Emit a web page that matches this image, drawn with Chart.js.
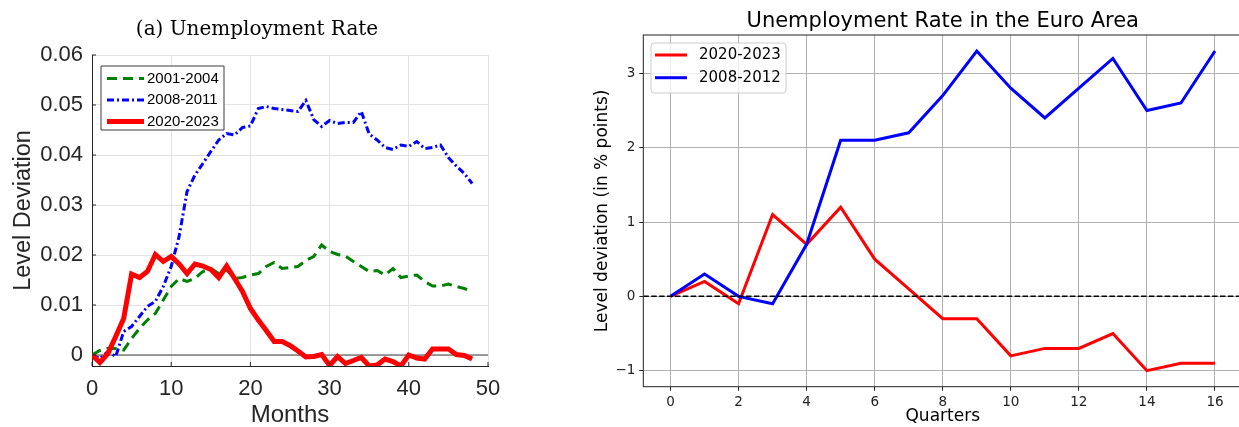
<!DOCTYPE html>
<html>
<head>
<meta charset="utf-8">
<title>Unemployment Rate</title>
<script src="https://cdn.jsdelivr.net/npm/chart.js@4.4.1/dist/chart.umd.min.js"></script>
<style>
  html, body { margin: 0; padding: 0; background: #fff; overflow: hidden; }
  #wrap { position: relative; width: 1239px; height: 427px; overflow: hidden; }
  #left { position: absolute; left: 0; top: 0; }
  #right { position: absolute; left: 580px; top: 0; }
</style>
</head>
<body>
<div id="wrap">
  <canvas id="left" width="520" height="427"></canvas>
  <canvas id="right" width="665" height="427"></canvas>
</div>
<script>
// (a) monthly level deviation of the unemployment rate
const months = [0,1,2,3,4,5,6,7,8,9,10,11,12,13,14,15,16,17,18,19,20,21,22,23,24,
  25,26,27,28,29,30,31,32,33,34,35,36,37,38,39,40,41,42,43,44,45,46,47,48];
const monthTicks = [0, 10, 20, 30, 40, 50];
const devTicks = [0, 0.01, 0.02, 0.03, 0.04, 0.05, 0.06];

const u2001 = [0, 0.0009, 0.0013, 0.0013, 0.001, 0.0033, 0.0053, 0.007, 0.0083, 0.011,
  0.0137, 0.0153, 0.0147, 0.0153, 0.0167, 0.0173, 0.0163, 0.017, 0.0153, 0.0155,
  0.016, 0.0163, 0.0177, 0.0185, 0.0173, 0.0175, 0.0177, 0.0189, 0.0197, 0.022,
  0.0207, 0.0201, 0.0198, 0.0187, 0.0177, 0.0167, 0.0169, 0.016, 0.0173, 0.0155,
  0.0158, 0.016, 0.0147, 0.0138, 0.0138, 0.0142, 0.0137, 0.0133, 0.0127];
const u2008 = [0, -0.0007, 0.0007, -0.0003, 0.0047, 0.0057, 0.0077, 0.0097, 0.0107, 0.0137,
  0.0177, 0.0237, 0.0327, 0.036, 0.0383, 0.0407, 0.043, 0.0443, 0.044, 0.0455,
  0.0458, 0.0493, 0.0497, 0.0493, 0.0491, 0.0489, 0.0487, 0.0509, 0.0471, 0.0457,
  0.0469, 0.0463, 0.0465, 0.0465, 0.0487, 0.0442, 0.043, 0.0415, 0.0411, 0.042,
  0.0417, 0.0427, 0.0413, 0.0415, 0.042, 0.0395, 0.0378, 0.0363, 0.0343];
const u2020 = [0, -0.0015, 0.0003, 0.0037, 0.0073, 0.0162, 0.0155, 0.0167, 0.0201, 0.0187,
  0.0197, 0.0182, 0.0163, 0.0182, 0.0178, 0.0171, 0.0155, 0.0178, 0.0153, 0.0127,
  0.0093, 0.007, 0.0049, 0.0027, 0.0027, 0.0019, 0.0008, -0.0004, -0.0003, 0.0001,
  -0.0021, -0.0003, -0.0017, -0.0011, -0.0005, -0.0022, -0.002, -0.0008, -0.0013, -0.0022,
  0, -0.0006, -0.0008, 0.0012, 0.0012, 0.0012, 0.0001, -0.0001, -0.0008];

// euro area, quarterly, in % points
const quarters = [0,1,2,3,4,5,6,7,8,9,10,11,12,13,14,15,16];
const quarterTicks = [0, 2, 4, 6, 8, 10, 12, 14, 16];
const ppTicks = [-1, 0, 1, 2, 3];
const ea2020 = [0, 0.2, -0.1, 1.1, 0.7, 1.2, 0.5, 0.1, -0.3, -0.3, -0.8, -0.7, -0.7, -0.5, -1.0, -0.9, -0.9];
const ea2008 = [0, 0.3, 0, -0.1, 0.7, 2.1, 2.1, 2.2, 2.7, 3.3, 2.8, 2.4, 2.8, 3.2, 2.5, 2.6, 3.3];

const pts = (xs, ys) => xs.map((x, i) => ({ x, y: ys[i] }));

function drawZero(chart, o) {
  const { ctx, chartArea: a, scales: { y } } = chart;
  const py = y.getPixelForValue(0);
  ctx.save();
  ctx.strokeStyle = o.color;
  ctx.lineWidth = o.width;
  ctx.setLineDash(o.dash || []);
  ctx.beginPath();
  ctx.moveTo(a.left, py);
  ctx.lineTo(a.right, py);
  ctx.stroke();
  ctx.restore();
}

const zeroLine = {
  id: 'zeroLine',
  beforeDatasetsDraw(chart, args, o) { if (!o.onTop) drawZero(chart, o); },
  afterDatasetsDraw(chart, args, o) { if (o.onTop) drawZero(chart, o); }
};

const axisFrame = {
  id: 'axisFrame',
  afterDatasetsDraw(chart, args, o) {
    const { ctx, chartArea: a, scales: { x, y } } = chart;
    ctx.save();
    ctx.strokeStyle = o.color;
    ctx.lineWidth = 1;
    if (o.box) ctx.strokeRect(a.left, a.top, a.width, a.height);
    if (o.innerTicks) {
      ctx.beginPath();
      x.ticks.forEach(t => {
        const px = x.getPixelForValue(t.value);
        ctx.moveTo(px, a.bottom);
        ctx.lineTo(px, a.bottom - o.innerTicks);
      });
      y.ticks.forEach(t => {
        const py = y.getPixelForValue(t.value);
        ctx.moveTo(a.left, py);
        ctx.lineTo(a.left + o.innerTicks, py);
      });
      ctx.stroke();
    }
    ctx.restore();
  }
};

// panel caption, centred on a given canvas x (MATLAB centres it on the figure, not the axes)
const panelCaption = {
  id: 'panelCaption',
  afterDraw(chart, args, o) {
    const { ctx } = chart;
    ctx.save();
    ctx.font = o.font;
    ctx.fillStyle = o.color;
    ctx.textAlign = 'center';
    ctx.textBaseline = 'middle';
    ctx.fillText(o.text, o.x, o.y);
    ctx.restore();
  }
};

const insetLegend = {
  id: 'insetLegend',
  afterDraw(chart, args, o) {
    const { ctx, chartArea: a } = chart;
    const x0 = a.left + o.left, y0 = a.top + o.top;
    ctx.save();
    ctx.beginPath();
    if (o.radius && ctx.roundRect) ctx.roundRect(x0, y0, o.width, o.height, o.radius);
    else ctx.rect(x0, y0, o.width, o.height);
    ctx.fillStyle = o.fill;
    ctx.fill();
    ctx.strokeStyle = o.edge;
    ctx.lineWidth = 1;
    ctx.stroke();
    ctx.font = o.font;
    ctx.textBaseline = 'middle';
    o.order.forEach((di, i) => {
      const ds = chart.data.datasets[di];
      const ry = y0 + o.firstRow + i * o.rowH;
      ctx.strokeStyle = ds.borderColor;
      ctx.lineWidth = ds.borderWidth;
      ctx.setLineDash(ds.borderDash || []);
      ctx.beginPath();
      ctx.moveTo(x0 + o.lineX0, ry);
      ctx.lineTo(x0 + o.lineX1, ry);
      ctx.stroke();
      ctx.setLineDash([]);
      ctx.fillStyle = o.textColor;
      ctx.fillText(ds.label, x0 + o.textX, ry);
    });
    ctx.restore();
  }
};

const ink = '#262626';
const sans = 'Liberation Sans';

new Chart(document.getElementById('left'), {
  type: 'line',
  data: {
    datasets: [
      { label: '2001-2004', data: pts(months, u2001), borderColor: '#008000', borderWidth: 3,
        borderDash: [10, 6], order: 2 },
      { label: '2008-2011', data: pts(months, u2008), borderColor: '#0000ff', borderWidth: 3,
        borderDash: [7, 3, 2, 3], order: 1 },
      { label: '2020-2023', data: pts(months, u2020), borderColor: '#ff0000', borderWidth: 5,
        order: 0 }
    ]
  },
  options: {
    responsive: false,
    animation: false,
    layout: { padding: { top: 55, right: 32, bottom: 0, left: 0 } },
    elements: { point: { radius: 0 }, line: { tension: 0, borderCapStyle: 'butt' } },
    scales: {
      x: {
        type: 'linear', min: 0, max: 50,
        afterBuildTicks: s => { s.ticks = monthTicks.map(v => ({ value: v })); },
        afterFit: s => { s.height = 61; },
        ticks: { font: { family: sans, size: 22 }, color: ink, padding: 10, maxRotation: 0, autoSkip: false },
        grid: { color: '#e3e3e3', drawTicks: false },
        border: { color: ink, width: 1 },
        title: { display: true, text: 'Months', color: ink, font: { family: sans, size: 24, lineHeight: 1 }, padding: 0 }
      },
      y: {
        type: 'linear', min: -0.0022, max: 0.06,
        afterBuildTicks: s => { s.ticks = devTicks.map(v => ({ value: v })); },
        afterFit: s => { s.width = 92; },
        ticks: { font: { family: sans, size: 22 }, color: ink, padding: 9, autoSkip: false,
          callback: v => v === 0 ? '0' : v.toFixed(2) },
        grid: { color: '#e3e3e3', drawTicks: false },
        border: { color: ink, width: 1 },
        title: { display: true, text: 'Level Deviation', color: ink, font: { family: sans, size: 23.5 }, padding: { top: 9 } }
      }
    },
    plugins: {
      legend: { display: false },
      tooltip: { enabled: false },
      panelCaption: { text: '(a) Unemployment Rate', font: '20px "DejaVu Serif"', color: '#000', x: 257, y: 30 },
      zeroLine: { color: '#404040', width: 1, onTop: false },
      axisFrame: { color: ink, box: false, innerTicks: 4 },
      insetLegend: {
        left: 9, top: 11, width: 123, height: 64, radius: 0,
        fill: '#fff', edge: '#3a3a3a', font: '15px "Liberation Sans"', textColor: '#000',
        firstRow: 12.5, rowH: 21.5, lineX0: 6, lineX1: 43, textX: 46, order: [0, 1, 2]
      }
    }
  },
  plugins: [zeroLine, axisFrame, panelCaption, insetLegend]
});

const dv = 'DejaVu Sans';

new Chart(document.getElementById('right'), {
  type: 'line',
  data: {
    datasets: [
      { label: '2020-2023', data: pts(quarters, ea2020), borderColor: '#ff0000', borderWidth: 3, order: 1 },
      { label: '2008-2012', data: pts(quarters, ea2008), borderColor: '#0000ff', borderWidth: 3, order: 0 }
    ]
  },
  options: {
    responsive: false,
    animation: false,
    layout: { padding: { top: 0, right: 2.8, bottom: 0, left: 0 } },
    elements: { point: { radius: 0 }, line: { tension: 0 } },
    scales: {
      x: {
        type: 'linear', min: -0.8, max: 16.8,
        afterBuildTicks: s => { s.ticks = quarterTicks.map(v => ({ value: v })); },
        afterFit: s => { s.height = 40.3; },
        ticks: { font: { family: dv, size: 13.5 }, color: '#222', padding: 4, maxRotation: 0, autoSkip: false },
        grid: { color: '#b0b0b0', tickColor: '#222', tickLength: 4 },
        border: { display: false },
        title: { display: true, text: 'Quarters', color: '#000', font: { family: dv, size: 17 }, padding: 0 }
      },
      y: {
        type: 'linear', min: -1.215, max: 3.515,
        afterBuildTicks: s => { s.ticks = ppTicks.map(v => ({ value: v })); },
        afterFit: s => { s.width = 63.3; },
        ticks: { font: { family: dv, size: 13.5 }, color: '#222', padding: 4, autoSkip: false,
          callback: v => v < 0 ? '\u2212' + Math.abs(v) : String(v) },
        grid: { color: '#b0b0b0', tickColor: '#222', tickLength: 4 },
        border: { display: false },
        title: { display: true, text: 'Level deviation (in % points)', color: '#000', font: { family: dv, size: 17 }, padding: { top: 12.5 } }
      }
    },
    plugins: {
      legend: { display: false },
      tooltip: { enabled: false },
      title: {
        display: true, fullSize: false, text: 'Unemployment Rate in the Euro Area', color: '#000',
        font: { family: dv, size: 21, weight: 'normal' },
        padding: { top: 9, bottom: 0.8 }
      },
      zeroLine: { color: '#000', width: 1.5, dash: [5.5, 2.4], onTop: true },
      axisFrame: { color: '#222', box: true, innerTicks: 0 },
      insetLegend: {
        left: 7.7, top: 8, width: 135, height: 50, radius: 3,
        fill: 'rgba(255,255,255,0.8)', edge: '#cccccc', font: '15px "DejaVu Sans"', textColor: '#000',
        firstRow: 12, rowH: 22.7, lineX0: 4, lineX1: 36, textX: 48, order: [0, 1]
      }
    }
  },
  plugins: [zeroLine, axisFrame, insetLegend]
});
</script>
</body>
</html>
